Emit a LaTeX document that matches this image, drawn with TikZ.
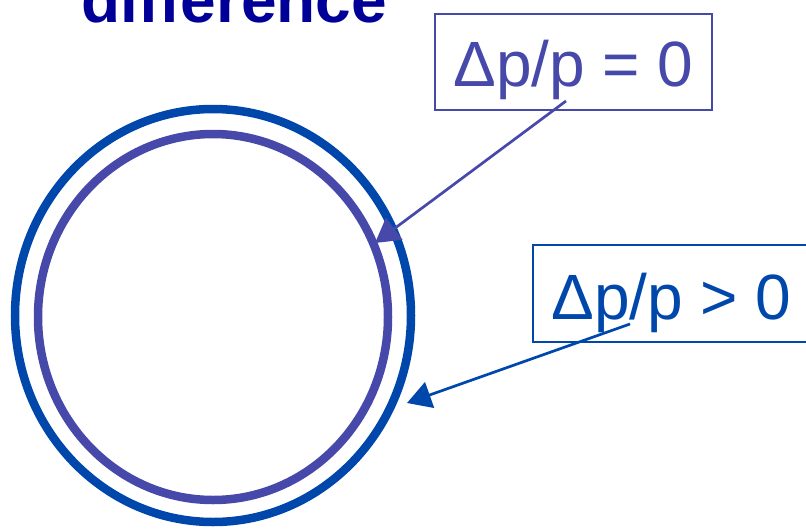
\documentclass[tikz,border=0pt]{standalone}
\usepackage{fontspec}
\setmainfont{Liberation Sans}
\usetikzlibrary{arrows.meta}
\definecolor{ringblue}{RGB}{0,71,171}
\definecolor{ringpurple}{RGB}{70,72,170}
\definecolor{titleblue}{RGB}{0,0,153}
\tikzset{
  ringline/.style={line width=8.5pt},
  labelbox/.style={draw, line width=2pt, minimum width=277pt, inner sep=0pt,
    font=\fontsize{64}{64}\selectfont, text depth=0pt},
  pointer/.style={line width=2.7pt, -{Triangle[length=24pt,width=27pt]}}
}
\begin{document}
\begin{tikzpicture}[x=1pt,y=-1pt]
\useasboundingbox (0,0) rectangle (806,528);
% title fragment
\node[anchor=base west, inner sep=0pt, text=titleblue,
      font=\fontsize{64}{64}\selectfont\bfseries] (title) at (81,22) {difference};
% rings
\draw[ringline, ringblue] (213,315.5) ellipse [x radius=198, y radius=206.5];
\draw[ringline, ringpurple] (213,317) ellipse [x radius=175, y radius=183];
% label boxes
\node[labelbox, draw=ringpurple, text=ringpurple, minimum height=96.5pt,
      text height=48.5pt] (zero) at (573.5,61.75) {Δp/p = 0};
\node[labelbox, draw=ringblue, text=ringblue, minimum height=97pt,
      text height=51pt] (pos) at (671.5,293.5) {Δp/p > 0};
% arrow ends
\coordinate (zstart) at (566,101);
\coordinate (ztip) at (375,243);
\coordinate (pstart) at (630,324);
\coordinate (ptip) at (407,403);
\draw[pointer, ringpurple] (zstart) -- (ztip);
\draw[pointer, ringblue] (pstart) -- (ptip);
\end{tikzpicture}
\end{document}
